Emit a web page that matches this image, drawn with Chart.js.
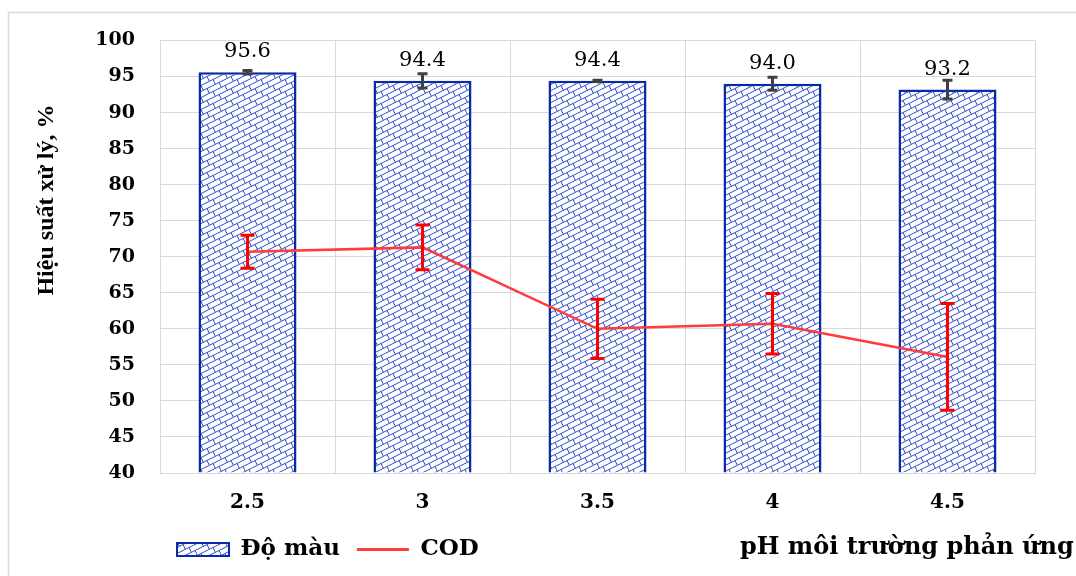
<!DOCTYPE html>
<html>
<head>
<meta charset="utf-8">
<script src="https://cdn.jsdelivr.net/npm/chart.js@4.4.1/dist/chart.umd.min.js"></script>
<style>
  html, body { margin: 0; padding: 0; background: #fff; }
  #chart { display: block; }
</style>
</head>
<body>
<canvas id="chart" width="1076" height="576"></canvas>
<script>
// values
var categories = ['2.5', '3', '3.5', '4', '4.5'];
var colourValues = [95.6, 94.4, 94.4, 94.0, 93.2];   // Độ màu
var colourErrors = [0.25, 1.0, 0.1, 0.9, 1.3];
var codValues = [70.7, 71.3, 60.0, 60.7, 56.1];      // COD
var codErrors = [2.3, 3.1, 4.1, 4.2, 7.4];
var yMin = 40, yMax = 100, yStep = 5;

var BLUE = '#0b2aa8';
var RED = '#ff3b3b';
var GRID = '#d9d9d9';

// diagonal brick hatch like the Excel fill
function brickPattern() {
    var c = document.createElement('canvas');
    c.width = 24; c.height = 12;
    var g = c.getContext('2d');
    g.fillStyle = '#fff';
    g.fillRect(0, 0, 24, 12);
    g.strokeStyle = '#2f4fc8';
    g.lineWidth = 1;
    for (var k = -2; k <= 8; k++) {
        g.beginPath();
        g.moveTo(-12, 6 * k + 6);
        g.lineTo(36, 6 * k - 18);
        g.stroke();
    }
    for (var r = -4; r <= 6; r++) {
        for (var n = -3; n <= 4; n++) {
            var x = 3 + 12 * n + (Math.abs(r) % 2 ? 6 : 0);
            var y = 6 * r - x / 2;
            g.beginPath();
            g.moveTo(x, y);
            g.lineTo(x + 2.4, y + 4.8);
            g.stroke();
        }
    }
    return g.createPattern(c, 'repeat');
}
var hatch = brickPattern();

function drawErrors(chart, dsIndex, values, errors, colour, cap) {
    var ctx = chart.ctx;
    var meta = chart.getDatasetMeta(dsIndex);
    var yScale = chart.scales.y;
    ctx.save();
    ctx.strokeStyle = colour;
    ctx.lineWidth = 3;
    meta.data.forEach(function (el, i) {
        var x = el.x;
        var top = yScale.getPixelForValue(values[i] + errors[i]);
        var bot = yScale.getPixelForValue(values[i] - errors[i]);
        ctx.beginPath();
        ctx.moveTo(x, top); ctx.lineTo(x, bot);
        ctx.moveTo(x - cap, top); ctx.lineTo(x + cap, top);
        ctx.moveTo(x - cap, bot); ctx.lineTo(x + cap, bot);
        ctx.stroke();
    });
    ctx.restore();
}

var extras = {
    id: 'extras',
    beforeDraw: function (chart) {
        var ctx = chart.ctx;
        ctx.save();
        ctx.strokeStyle = GRID;
        ctx.lineWidth = 1.5;
        ctx.strokeRect(8.5, 12.5, 2000, 2000);
        ctx.restore();
    },
    afterDatasetsDraw: function (chart) {
        var ctx = chart.ctx;
        drawErrors(chart, 1, colourValues, colourErrors, '#404040', 5);
        drawErrors(chart, 0, codValues, codErrors, '#ff0000', 7);

        var meta = chart.getDatasetMeta(1);
        ctx.save();
        ctx.fillStyle = '#000';
        ctx.font = '21px "DejaVu Serif"';
        ctx.textAlign = 'center';
        ctx.textBaseline = 'alphabetic';
        meta.data.forEach(function (el, i) {
            ctx.fillText(colourValues[i].toFixed(1), el.x, el.y - 15);
        });
        ctx.restore();
    },
    afterDraw: function (chart) {
        var ctx = chart.ctx;
        ctx.save();
        ctx.fillStyle = '#000';
        ctx.font = 'bold 24px "DejaVu Serif"';
        ctx.textAlign = 'left';
        ctx.textBaseline = 'middle';
        ctx.fillText('pH môi trường phản ứng', 740, 548);

        ctx.translate(47, 200);
        ctx.rotate(-Math.PI / 2);
        ctx.font = 'bold 24px "Liberation Serif"';
        ctx.textAlign = 'center';
        ctx.fillText('Hiệu suất xử lý, %', 0, 0);
        ctx.restore();
    }
};

new Chart(document.getElementById('chart').getContext('2d'), {
    type: 'bar',
    data: {
        labels: categories,
        datasets: [{
            type: 'line',
            label: 'COD',
            data: codValues,
            borderColor: RED,
            borderWidth: 2.5,
            pointRadius: 0,
            tension: 0,
            order: 0
        }, {
            type: 'bar',
            label: 'Độ màu',
            data: colourValues,
            base: yMin,
            backgroundColor: hatch,
            borderColor: BLUE,
            borderWidth: 2.5,
            barPercentage: 0.56,
            categoryPercentage: 1,
            order: 1
        }]
    },
    options: {
        responsive: false,
        animation: false,
        layout: { padding: { left: 0, right: 41, top: 40.5, bottom: 5 } },
        plugins: {
            tooltip: { enabled: false },
            legend: {
                position: 'bottom',
                align: 'start',
                fullSize: false,
                labels: {
                    usePointStyle: true,
                    pointStyleWidth: 52,
                    boxHeight: 13,
                    padding: 17,
                    color: '#000',
                    font: { family: 'DejaVu Serif', weight: 'bold', size: 23 },
                    generateLabels: function () {
                        return [
                            { text: 'Độ màu', fillStyle: hatch, strokeStyle: BLUE, lineWidth: 2, pointStyle: 'rect', datasetIndex: 1 },
                            { text: 'COD', fillStyle: RED, strokeStyle: RED, lineWidth: 3, pointStyle: 'line', datasetIndex: 0 }
                        ];
                    }
                }
            }
        },
        scales: {
            x: {
                grid: { color: GRID, drawTicks: false },
                border: { color: GRID },
                ticks: {
                    padding: 18,
                    color: '#000',
                    font: { family: 'DejaVu Serif', weight: 'bold', size: 20 }
                },
                afterFit: function (scale) { scale.height = 48; }
            },
            y: {
                min: yMin,
                max: yMax,
                grid: { color: GRID, drawTicks: false },
                border: { color: GRID },
                ticks: {
                    stepSize: yStep,
                    padding: 25,
                    color: '#000',
                    font: { family: 'DejaVu Serif', weight: 'bold', size: 19 }
                },
                afterFit: function (scale) { scale.width = 160; }
            }
        }
    },
    plugins: [extras]
});
</script>
</body>
</html>
